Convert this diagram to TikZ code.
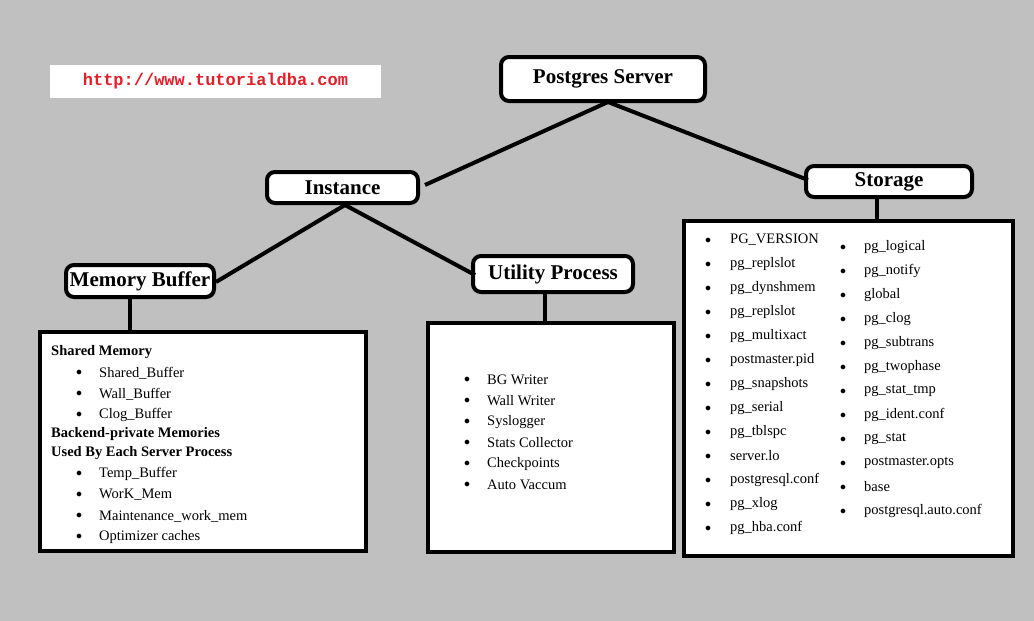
\documentclass[tikz,border=0pt]{standalone}
\usepackage{fontspec}
\setmainfont{Liberation Serif}
\setmonofont{Liberation Mono}
\definecolor{bg}{RGB}{192,192,192}
\definecolor{urlred}{RGB}{230,30,40}
\begin{document}
\begin{tikzpicture}[x=1pt,y=-1pt,
  hdr/.style={draw,line width=4pt,fill=white,rounded corners=8pt,inner sep=0pt,font=\fontsize{21}{23}\selectfont\bfseries},
  panel/.style={draw,line width=4pt,fill=white},
  link/.style={line width=4pt},
  it/.style={anchor=west,inner sep=0pt,font=\fontsize{14.5}{16}\selectfont},
  bul/.style={inner sep=0pt,font=\fontsize{12}{14}\selectfont}]
\fill[bg] (0,0) rectangle (1034,621);
\useasboundingbox (0,0) rectangle (1034,621);
\node[fill=white,minimum width=331pt,minimum height=33pt,inner sep=0pt,font=\ttfamily\bfseries\fontsize{17}{18}\selectfont,text=urlred] (url) at (215.5,81.5) {http://www.tutorialdba.com};
\node[hdr,minimum width=204pt,minimum height=44pt] (ps) at (603,79) {Postgres Server};
\node[hdr,minimum width=151pt,minimum height=31pt] (inst) at (342.5,187.5) {Instance};
\node[hdr,minimum width=166pt,minimum height=31pt] (stor) at (889,181.5) {Storage};
\node[hdr,minimum width=148pt,minimum height=32pt] (mem) at (140,281) {Memory Buffer};
\node[hdr,minimum width=160pt,minimum height=36pt] (util) at (553,274) {Utility Process};
\node[panel,minimum width=326pt,minimum height=219pt] (mbox) at (203,441.5) {};
\node[panel,minimum width=246pt,minimum height=229pt] (ubox) at (551,437.5) {};
\node[panel,minimum width=329pt,minimum height=335pt] (sbox) at (848.5,388.5) {};
\coordinate (psb) at (608,102);
\coordinate (insr) at (425,185);
\coordinate (stl) at (808,180);
\coordinate (inb) at (345,205);
\coordinate (mer) at (216,282);
\coordinate (utl) at (475,275);
\coordinate (mx) at (130,0);
\coordinate (ux) at (545,0);
\coordinate (sx) at (877,0);
\draw[link] (psb) -- (insr);
\draw[link] (psb) -- (stl);
\draw[link] (inb) -- (mer);
\draw[link] (inb) -- (utl);
\draw[link] (mx |- mem.south) -- (mx |- mbox.north);
\draw[link] (ux |- util.south) -- (ux |- ubox.north);
\draw[link] (sx |- stor.south) -- (sx |- sbox.north);
% memory box
\node[it,font=\fontsize{14.5}{16}\selectfont\bfseries] (m1) at (51,352) {Shared Memory};
\foreach \t [count=\i] in {Shared\_Buffer,Wall\_Buffer,Clog\_Buffer}
  {\node[bul] (mb\i) at (79,352+21*\i) {$\bullet$}; \node[it] (mt\i) at (99,352+21*\i) {\t};}
\node[it,font=\fontsize{14.5}{16}\selectfont\bfseries] (m2) at (51,434) {Backend-private Memories};
\node[it,font=\fontsize{14.5}{16}\selectfont\bfseries] (m3) at (51,453) {Used By Each Server Process};
\foreach \t [count=\i] in {Temp\_Buffer,WorK\_Mem,Maintenance\_work\_mem,Optimizer caches}
  {\node[bul] (mc\i) at (79,453+21*\i) {$\bullet$}; \node[it] (mu\i) at (99,453+21*\i) {\t};}
% utility
\foreach \t [count=\i] in {BG Writer,Wall Writer,Syslogger,Stats Collector,Checkpoints,Auto Vaccum}
  {\node[bul] (ub\i) at (467,359+21*\i) {$\bullet$}; \node[it] (ut\i) at (487,359+21*\i) {\t};}
% storage
\foreach \t [count=\i] in {PG\_VERSION,pg\_replslot,pg\_dynshmem,pg\_replslot,pg\_multixact,postmaster.pid,pg\_snapshots,pg\_serial,pg\_tblspc,server.lo,postgresql.conf,pg\_xlog,pg\_hba.conf}
  {\node[bul] (sb\i) at (708,217+24*\i) {$\bullet$}; \node[it] (st\i) at (730,216+24*\i) {\t};}
\foreach \t [count=\i] in {pg\_logical,pg\_notify,global,pg\_clog,pg\_subtrans,pg\_twophase,pg\_stat\_tmp,pg\_ident.conf,pg\_stat,postmaster.opts,base,postgresql.auto.conf}
  {\node[bul] (sc\i) at (843,224+24*\i) {$\bullet$}; \node[it] (su\i) at (864,223+24*\i) {\t};}
\end{tikzpicture}
\end{document}
